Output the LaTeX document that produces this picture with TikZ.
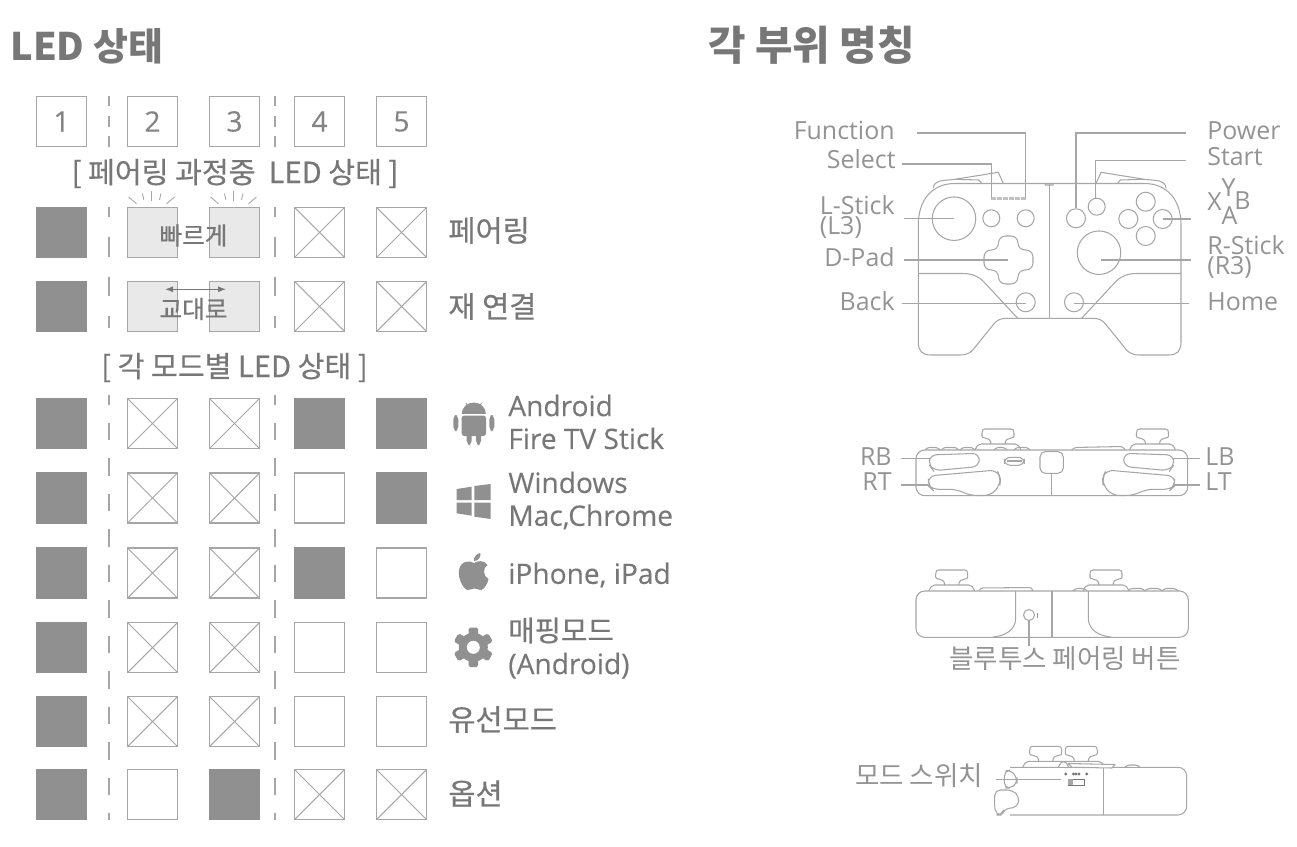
\documentclass[tikz,border=0pt]{standalone}
\usepackage{fontspec}
\setmainfont{Open Sans}
\newfontfamily\kr{Noto Sans CJK KR}
\newfontfamily\krm[FakeBold=0.5]{Noto Sans CJK KR}
\newfontfamily\latm[FakeBold=0.25]{Open Sans}
\usetikzlibrary{arrows.meta,calc,positioning}
\definecolor{ink}{HTML}{777777}
\definecolor{pale}{HTML}{939393}
\definecolor{edge}{HTML}{A6A6A6}
\definecolor{lit}{HTML}{909090}
\definecolor{blink}{HTML}{E9E9E9}
\tikzset{
  led/.style={
    draw=edge,
    line width=0.7pt,
    minimum size=1.0cm,
    inner sep=0pt
  },
  ledon/.style={
    led,
    draw=lit,
    fill=lit
  },
  ledoff/.style={
    led,
    path picture={
      \draw[edge,line width=0.6pt] (path picture bounding box.north west) -- (path picture bounding box.south east);
      \draw[edge,line width=0.6pt] (path picture bounding box.north east) -- (path picture bounding box.south west);
    }
  },
  ledblink/.style={
    led,
    fill=blink
  },
  num/.style={
    led,
    text=pale!90!black,
    font=\latm\fontsize{16}{18}\selectfont
  },
  sep/.style={
    draw=edge,
    dash pattern=on 10pt off 10.2pt
  },
  ray/.style={
    draw=edge,
    line width=0.5pt
  },
  heading/.style={
    text=ink,
    inner sep=0pt,
    font=\kr\bfseries\fontsize{23.2}{26}\selectfont,
    anchor=west
  },
  sub/.style={
    text=ink,
    font=\krm\fontsize{16.6}{18}\selectfont
  },
  inled/.style={
    text=ink,
    font=\krm\fontsize{14}{15}\selectfont
  },
  mode/.style={
    text=ink,
    font=\latm\fontsize{16}{18.7}\selectfont,
    align=left,
    anchor=west,
    inner sep=0pt
  },
  modekr/.style={
    mode,
    font=\krm\fontsize{16.8}{18.7}\selectfont
  },
  part/.style={
    text=pale,
    font=\fontsize{14.2}{11.4}\selectfont,
    align=left,
    inner sep=0pt
  },
  partkr/.style={
    text=pale,
    font=\kr\fontsize{15.1}{16}\selectfont,
    inner sep=0pt
  },
  pad/.style={
    draw=edge,
    line width=0.6pt,
    line join=round
  },
  btn/.style={
    circle,
    pad,
    inner sep=0pt,
    minimum size=0.38cm
  },
  leader/.style={
    draw=edge,
    line width=0.6pt
  },
  stickcap/.pic={
    \draw[pad] (-7,-6) .. controls (-7,-10) and (-10,-12) .. (-13,-12)
      .. controls (-17,-12) and (-16,-15) .. (-16,-17)
      .. controls (-16,-20) and (-15,-21) .. (-13,-21) -- (13,-21)
      .. controls (15,-21) and (16,-20) .. (16,-17)
      .. controls (16,-15) and (17,-12) .. (13,-12)
      .. controls (10,-12) and (7,-10) .. (7,-6);
    \draw[pad] (-23,0) .. controls (-21,-4) and (-20,-6) .. (-17,-6) -- (17,-6)
      .. controls (20,-6) and (21,-4) .. (23,0);
  },
  padhalf/.pic={
    \draw[pad] (1049.65,183.5) -- (955,183.5) .. controls (932,183.5) and (918.3,200) .. (918.3,225)
      -- (918.3,342) .. controls (918.3,351) and (922,355) .. (931,355) -- (960,355)
      .. controls (968,355) and (972,352) .. (976,346) -- (993,325)
      .. controls (997,320) and (1000,318.3) .. (1007,318.3) -- (1049.65,318.3);
    \draw[pad] (918.3,273.5) -- (962,273.5) .. controls (972,273.5) and (978,276) .. (984,282) -- (1017.7,318.3);
    \draw[pad] (933.3,188) .. controls (934,184) and (935,183) .. (940,181)
      .. controls (945,180) and (950,180) .. (955,179.3) -- (998.3,172.3) -- (1003.3,183.5);
    \draw[pad] (955,179.3) -- (979,180) -- (981.7,183.5);
  },
  bumpers/.pic={
    \draw[pad,rounded corners=4] (929.3,455) -- (979.3,453.3) -- (979.3,466.5) -- (934,470.7) -- (929.3,466) -- cycle;
    \draw[pad,rounded corners=4] (928.3,476) -- (997,470) -- (1000.5,478) -- (1000,485) -- (991,495.5)
      -- (970,495.5) -- (956.7,489.3) -- (932,489.3) -- (928.3,486) -- cycle;
  },
  gripside/.pic={
    \draw[pad] (1015.7,591) -- (1015.7,618) .. controls (1015.7,630) and (1005,636) .. (993,637);
  }
}
\begin{document}
\begin{tikzpicture}[x=0.02cm,y=-0.02cm]
  \useasboundingbox (0,0) rectangle (1297,847);

  % Headings
  \node[heading,font=\kr\bfseries\fontsize{21.6}{26}\selectfont] (ledTitle) at (10,46) {LED 상태};
  \node[heading] (partTitle) at (708,45) {각 부위 명칭};

  % Separators
  \draw[sep,line width=1.1pt,dash pattern=on 5.9pt off 5.6pt] (109,96) -- (109,147);
  \draw[sep,line width=1.1pt,dash pattern=on 11.3pt off 11.3pt,dash phase=5.6pt] (109,207) -- (109,328);
  \draw[sep,line width=1.1pt,dash phase=4.4pt] (109,395) -- (109,820);
  \draw[sep,line width=0.7pt,dash pattern=on 5.9pt off 5.6pt] (275,96) -- (275,147);
  \draw[sep,line width=0.7pt,dash pattern=on 11.3pt off 11.3pt,dash phase=5.6pt] (275,207) -- (275,328);
  \draw[sep,line width=0.7pt,dash phase=4.4pt] (275,395) -- (275,820);

  % LED numbers
  \node[num] (numA) at (61.5,121.5) {1};
  \node[num] (numB) at (152.5,121.5) {2};
  \node[num] (numC) at (234.5,121.5) {3};
  \node[num] (numD) at (319.5,121.5) {4};
  \node[num] (numE) at (401.5,121.5) {5};

  \node[sub] (subPair) at (235,173.5) {[ 페어링 과정중~~LED 상태 ]};
  \node[sub] (subMode) at (234.5,367.5) {[ 각 모드별 LED 상태 ]};

  % Pairing
  \node[ledon] (pairA) at (61.5,232.5) {};
  \node[ledblink] (pairB) at (152.5,232.5) {};
  \node[ledblink] (pairC) at (234.5,232.5) {};
  \node[ledoff] (pairD) at (319.5,232.5) {};
  \node[ledoff] (pairE) at (401.5,232.5) {};
  \node[inled] (fast) at (193.5,235.5) {빠르게};
  \foreach \n in {pairB,pairC} {
    \draw[ray] ($(\n.north)+(-24,-10)$) -- ($(\n.north)+(-16,-3)$);
    \draw[ray] ($(\n.north)+(-10,-13.5)$) -- ($(\n.north)+(-8.7,-7)$);
    \draw[ray] ($(\n.north)+(-1,-16)$) -- ($(\n.north)+(-1,-6)$);
    \draw[ray] ($(\n.north)+(8.5,-13.5)$) -- ($(\n.north)+(7,-7)$);
    \draw[ray] ($(\n.north)+(22,-10)$) -- ($(\n.north)+(14,-3)$);
  }

  % Reconnect
  \node[ledon] (backA) at (61.5,306.5) {};
  \node[ledblink] (backB) at (152.5,306.5) {};
  \node[ledblink] (backC) at (234.5,306.5) {};
  \node[ledoff] (backD) at (319.5,306.5) {};
  \node[ledoff] (backE) at (401.5,306.5) {};
  \node[inled] (swap) at (193.5,309) {교대로};
  \coordinate (swapL) at (165,289.3);
  \coordinate (swapR) at (226,289.3);
  \draw[{Latex[length=1.6mm,width=1.2mm]}-{Latex[length=1.6mm,width=1.2mm]},draw=ink,line width=0.5pt] (swapL) -- (swapR);

  % Android
  \node[ledon] (droidA) at (61.5,423.5) {};
  \node[ledoff] (droidB) at (152.5,423.5) {};
  \node[ledoff] (droidC) at (234.5,423.5) {};
  \node[ledon] (droidD) at (319.5,423.5) {};
  \node[ledon] (droidE) at (401.5,423.5) {};

  % Windows
  \node[ledon] (winA) at (61.5,498) {};
  \node[ledoff] (winB) at (152.5,498) {};
  \node[ledoff] (winC) at (234.5,498) {};
  \node[led] (winD) at (319.5,498) {};
  \node[ledon] (winE) at (401.5,498) {};

  % Apple
  \node[ledon] (appleA) at (61.5,573) {};
  \node[ledoff] (appleB) at (152.5,573) {};
  \node[ledoff] (appleC) at (234.5,573) {};
  \node[ledon] (appleD) at (319.5,573) {};
  \node[led] (appleE) at (401.5,573) {};

  % Mapping
  \node[ledon] (mapA) at (61.5,647.5) {};
  \node[ledoff] (mapB) at (152.5,647.5) {};
  \node[ledoff] (mapC) at (234.5,647.5) {};
  \node[led] (mapD) at (319.5,647.5) {};
  \node[led] (mapE) at (401.5,647.5) {};

  % Wired
  \node[ledon] (wireA) at (61.5,721.5) {};
  \node[ledoff] (wireB) at (152.5,721.5) {};
  \node[ledoff] (wireC) at (234.5,721.5) {};
  \node[led] (wireD) at (319.5,721.5) {};
  \node[led] (wireE) at (401.5,721.5) {};

  % Option
  \node[ledon] (optA) at (61.5,794.5) {};
  \node[led] (optB) at (152.5,794.5) {};
  \node[ledon] (optC) at (234.5,794.5) {};
  \node[ledoff] (optD) at (319.5,794.5) {};
  \node[ledoff] (optE) at (401.5,794.5) {};

  % Row names
  \node[modekr] (rowPair) at (448,230.5) {페어링};
  \node[modekr] (rowBack) at (448,306.5) {재 연결};
  \node[mode] (rowDroid) at (508,422) {Android\\Fire TV Stick};
  \node[mode] (rowWin) at (508,500.5) {Windows\\Mac,Chrome};
  \node[mode] (rowApple) at (508,575) {iPhone, iPad};
  \node[mode] (rowMap) at (508,648) {{\krm\fontsize{16.3}{18.7}\selectfont 매핑모드}\\(Android)};
  \node[modekr] (rowWire) at (448,719.5) {유선모드};
  \node[modekr] (rowOpt) at (448,793.5) {옵션};

  % Android icon
  \fill[lit] (461.7,414) arc[start angle=180,end angle=360,x radius=12.1,y radius=11.5] -- cycle;
  \fill[lit,rounded corners=1.5] (461.7,415.5) rectangle (486,436);
  \fill[lit,rounded corners=2.4] (453.3,415) rectangle (458.3,431);
  \fill[lit,rounded corners=2.4] (489.3,415) rectangle (494.3,431);
  \fill[lit,rounded corners=2.4] (466.7,430) rectangle (471.7,445);
  \fill[lit,rounded corners=2.4] (476,430) rectangle (481,445);
  \draw[lit,line width=0.5pt] (466,403) -- (468.5,407) (481.5,403) -- (479,407);

  % Windows icon
  \fill[lit] (456.7,489) -- (471.7,486.7) -- (471.7,500) -- (456.7,500) -- cycle;
  \fill[lit] (474.3,486) -- (490.7,484) -- (490.7,500) -- (474.3,500) -- cycle;
  \fill[lit] (456.7,502.7) -- (471.7,502.7) -- (471.7,515.7) -- (456.7,513.3) -- cycle;
  \fill[lit] (474.3,502.7) -- (490.7,502.7) -- (490.7,519) -- (474.3,516.7) -- cycle;

  % Apple icon
  \fill[lit] (474,563) .. controls (470,560.5) and (461,560) .. (459,570)
    .. controls (457.5,579) and (464,590) .. (468,590) .. controls (471,590) and (472,588.5) .. (474.5,588.5)
    .. controls (477,588.5) and (478,590) .. (481,590) .. controls (484.5,590) and (488,582) .. (488.5,579)
    .. controls (483,576.5) and (482.5,567.5) .. (487.5,565) .. controls (484,560) and (478,560.5) .. (474,563) -- cycle;
  \fill[lit] (474,561) .. controls (473.5,557) and (476.5,553.5) .. (480.5,553) .. controls (481,557.5) and (478,561) .. (474,561) -- cycle;

  % Gear icon
  \foreach \a in {0,60,...,300} {
    \fill[lit,rotate around={\a:(473.3,647.3)},rounded corners=1] (468.5,627.5) rectangle (478.1,640);
  }
  \fill[lit] (473.3,647.3) circle[radius=14.5];
  \fill[white] (473.3,647.3) circle[radius=6.5];

  % Front view
  \pic at (0,0) {padhalf};
  \pic[xscale=-1] at (2099.3,0) {padhalf};
  \draw[pad] (1049.3,183.5) -- (1049.3,318.3);
  \draw[pad] (1045,183.5) -- (1045.5,185) -- (1053,185) -- (1053.5,183.5);
  \draw[pad,dash pattern=on 2.8pt off 0.6pt,line width=1.5pt,draw=edge!70] (991,198.5) -- (1025.7,198.5);

  \node[btn,minimum size=0.87cm] (stickL) at (954,218.7) {};
  \node[btn,minimum size=0.87cm] (stickR) at (1099,252.7) {};
  \node[btn,minimum size=0.34cm] (btnSelect) at (991.3,218.3) {};
  \node[btn,minimum size=0.34cm] (btnFunction) at (1025.7,218.3) {};
  \node[btn] (btnPower) at (1076,218.3) {};
  \node[btn,minimum size=0.34cm] (btnStart) at (1096.7,206.7) {};
  \node[btn] (btnY) at (1145.7,201.7) {};
  \node[btn] (btnX) at (1128.3,219) {};
  \node[btn] (btnB) at (1162.7,219) {};
  \node[btn] (btnA) at (1145.7,236) {};
  \node[btn] (btnBack) at (1025.7,302.3) {};
  \node[btn] (btnHome) at (1074,302.3) {};
  \draw[pad,rounded corners=4] (998.5,236) -- (1018,236) -- (1018,250) -- (1033,250) -- (1033,270) -- (1018,270)
    -- (1018,284) -- (998.5,284) -- (998.5,270) -- (984,270) -- (984,250) -- (998.5,250) -- cycle;

  \node[part,anchor=east] (lblFunction) at (895,130) {Function};
  \node[part,anchor=east] (lblSelect) at (896,159) {Select};
  \node[part,anchor=east] (lblLstick) at (895,217) {L-Stick\\(L3)};
  \node[part,anchor=east] (lblDpad) at (895,257) {D-Pad};
  \node[part,anchor=east] (lblBack) at (895,301) {Back};
  \node[part,anchor=west] (lblPower) at (1207,130.5) {Power};
  \node[part,anchor=west] (lblStart) at (1207,156.5) {Start};
  \node[part] (lblX) at (1214.5,202) {X};
  \node[part] (lblY) at (1228.5,188) {Y};
  \node[part] (lblB) at (1242.5,201) {B};
  \node[part] (lblA) at (1229.5,216) {A};
  \node[part,anchor=west] (lblRstick) at (1207,257) {R-Stick\\(R3)};
  \node[part,anchor=west] (lblHome) at (1207,301.5) {Home};

  \coordinate (fnStart) at (917,133);
  \coordinate (fnEnd) at (1025.7,198.5);
  \coordinate (selStart) at (901.7,164);
  \coordinate (selEnd) at (991.7,198.5);
  \coordinate (powStart) at (1185.7,133);
  \coordinate (startStart) at (1185.7,160.7);
  \coordinate (lStart) at (904,218.7);
  \coordinate (dStart) at (904,260);
  \coordinate (dEnd) at (1008,260);
  \coordinate (backStart) at (901.7,303.7);
  \coordinate (homeStart) at (1189.3,303.7);
  \coordinate (bStart) at (1191,219);
  \coordinate (rStart) at (1191,260);
  \coordinate (rEnd) at (1101,260);
  \draw[leader] (fnStart) -| (fnEnd);
  \draw[leader] (selStart) -| (selEnd);
  \draw[leader] (powStart) -| (btnPower.north);
  \draw[leader] (startStart) -| ($(btnStart.north)+(-1.5,0)$);
  \draw[leader] (lStart) -- (stickL.center);
  \draw[leader] (dStart) -- (dEnd);
  \draw[leader] (backStart) -- (backStart -| btnBack.center);
  \draw[leader] (homeStart) -- (homeStart -| btnHome.center);
  \draw[leader] (bStart) -- (btnB.center);
  \draw[leader] (rStart) -- (rEnd);

  % Top view
  \draw[pad,rounded corners=5] (916,450) rectangle (1187.7,495.7);
  \pic at (998,450) {stickcap};
  \pic at (1152.5,450) {stickcap};
  \pic at (0,0) {bumpers};
  \pic[xscale=-1] at (2103,0) {bumpers};
  \draw[pad,rounded corners=3] (1040,451.7) rectangle (1063.3,473.3);
  \draw[pad,rounded corners=3.5] (1004.3,457.3) rectangle (1024.3,465.3);
  \draw[pad,line width=1.2pt] (1007,461.3) -- (1021.5,461.3);
  \draw[pad] (1051.7,473.3) -- (1051.7,495.7);
  \draw[pad,rounded corners=1.5] (925,450) -- (927,447.5) -- (938,447.5) -- (940,450)
    (941.7,450) -- (943,447.5) -- (957,447.5) -- (958.3,450)
    (960,450) -- (962,447.5) -- (973,447.5) -- (975,450)
    (994,450) -- (996,447.5) -- (1005,447.5) -- (1007,450)
    (1014,450) -- (1016,447.5) -- (1028,447.5) -- (1030,450)
    (1071.7,450) -- (1074,447.5) -- (1123,446.5) -- (1125,450);

  \node[part,anchor=east] (lblRb) at (892,456.5) {RB};
  \node[part,anchor=east] (lblRt) at (892,482) {RT};
  \node[part,anchor=west] (lblLb) at (1205,456.5) {LB};
  \node[part,anchor=west] (lblLt) at (1205,482) {LT};
  \coordinate (rbStart) at (900.7,458.3);
  \coordinate (rbEnd) at (930,458.3);
  \coordinate (rtStart) at (900.7,485);
  \coordinate (rtEnd) at (930,485);
  \coordinate (lbStart) at (1200,458.3);
  \coordinate (lbEnd) at (1173.3,458.3);
  \coordinate (ltStart) at (1200,485);
  \coordinate (ltEnd) at (1173.3,485);
  \draw[leader] (rbStart) -- (rbEnd);
  \draw[leader] (rtStart) -- (rtEnd);
  \draw[leader] (lbStart) -- (lbEnd);
  \draw[leader] (ltStart) -- (ltEnd);

  % Bottom view
  \draw[pad,rounded corners=5] (916,591) rectangle (1188.3,637.3);
  \pic at (951.7,591) {stickcap};
  \pic at (1106,591) {stickcap};
  \pic at (0,0) {gripside};
  \pic[xscale=-1] at (2104,0) {gripside};
  \draw[pad,line width=0.9pt] (1051.7,591) -- (1051.7,637.3);
  \draw[pad,rounded corners=1.5] (979.3,591) -- (980,588) -- (1032,587.5) -- (1032.7,591)
    (1073,591) -- (1075,588.5) -- (1085,588.5) -- (1087,591)
    (1128,591) -- (1130,588.5) -- (1143,588.5) -- (1145,591)
    (1145,591) -- (1147,588.5) -- (1160,588.5) -- (1162,591)
    (1162,591) -- (1164,588.5) -- (1176,588.5) -- (1178,591);
  \node[btn,minimum size=0.22cm] (btnPair) at (1029,615) {};
  \draw[pale,line width=0.5pt] (1037.5,612.5) -- (1037.5,617.5);
  \node[partkr] (lblPair) at (1065,658.5) {블루투스 페어링 버튼};
  \draw[leader] (btnPair.south) -- (lblPair.north -| btnPair.south);

  % Side view
  \draw[pad,rounded corners=5] (1010,767.3) -- (1186.7,767.3) -- (1186.7,815) -- (1010,815);
  \pic at (1045.7,767.3) {stickcap};
  \pic at (1081.3,767.3) {stickcap};
  \draw[pad] (1103.3,767.3) -- (1103.3,815);
  \draw[pad,fill=white] (1068,763.5) -- (1115,764.5) -- (1112,768) -- (1072,767.3) -- cycle;
  \draw[pad,rounded corners=1.5] (1125,767.3) -- (1127,765) -- (1138,765) -- (1140,767.3);
  \draw[pad,fill=white,rounded corners=3] (1004.3,771) -- (1011,770) -- (1017,778) -- (1017,783) -- (1011,788) -- (1004.3,788) -- cycle;
  \draw[pad,fill=white,rounded corners=3] (995,790) -- (1012,790) -- (1019,796) -- (1018,807) -- (1004,809) -- (1002,815) -- (996,815) -- (994.3,805) -- cycle;
  \node[draw=ink,line width=0.5pt,inner sep=0pt,minimum width=0.32cm,minimum height=0.12cm] (modeSwitch) at (1076.3,782) {};
  \draw[pad,fill=edge] (1068.3,779.6) rectangle (1072,784.4);
  \foreach \x in {1065.7,1073.5,1076,1079,1086.7} {
    \fill[ink] (\x,774) circle[radius=1.6];
  }
  \node[partkr] (lblSwitch) at (919,776) {모드 스위치};
  \coordinate (swStart) at (996,779.3);
  \coordinate (swEnd) at (1061,779.3);
  \draw[leader] (swStart) -- (swEnd);
\end{tikzpicture}
\end{document}
